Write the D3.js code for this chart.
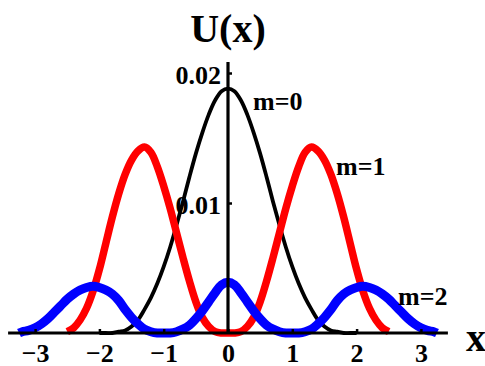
<!DOCTYPE html>
<html lang="en">
<head>
<meta charset="utf-8" />
<title>U(x)</title>
<script src="https://cdn.jsdelivr.net/npm/d3@7"></script>
<style>
  body { margin: 0; background: #fff; }
  svg { display: block; }
</style>
</head>
<body>
<div id="chart"></div>
<script>
// values (symmetric curves, listed left to right)
var xBlack = [-2.0,-1.9,-1.8,-1.7,-1.6,-1.5,-1.4,-1.3,-1.2,-1.1,-1.0,-0.9,-0.8,-0.7,-0.6,-0.5,-0.4,-0.3,-0.2,-0.1,
               0.0, 0.1, 0.2, 0.3, 0.4, 0.5, 0.6, 0.7, 0.8, 0.9, 1.0, 1.1, 1.2, 1.3, 1.4, 1.5, 1.6, 1.7, 1.8, 1.9, 2.0];
var m0 = [0,0,0,0.0001,0.0002,0.0005,0.0010,0.0018,0.0027,0.0038,0.0051,0.0066,0.0083,0.0101,0.0120,0.0138,0.0154,0.0168,0.0179,0.0186,
          0.0188,
          0.0186,0.0179,0.0168,0.0154,0.0138,0.0120,0.0101,0.0083,0.0066,0.0051,0.0038,0.0027,0.0018,0.0010,0.0005,0.0002,0.0001,0,0,0];

var xRed = [-2.5,-2.4,-2.3,-2.2,-2.1,-2.0,-1.9,-1.8,-1.7,-1.6,-1.5,-1.4,-1.3,-1.2,-1.1,-1.0,-0.9,-0.8,-0.7,-0.6,-0.5,-0.4,-0.3,-0.2,-0.1,
             0.0, 0.1, 0.2, 0.3, 0.4, 0.5, 0.6, 0.7, 0.8, 0.9, 1.0, 1.1, 1.2, 1.3, 1.4, 1.5, 1.6, 1.7, 1.8, 1.9, 2.0, 2.1, 2.2, 2.3, 2.4, 2.5];
var m1 = [0.0001,0.0004,0.0010,0.0019,0.0032,0.0049,0.0069,0.0089,0.0107,0.0122,0.0133,0.0140,0.0143,0.0139,0.0128,0.0113,0.0096,0.0077,0.0058,0.0040,0.0024,0.0012,0.0005,0.0001,0,
          0,
          0,0.0001,0.0005,0.0012,0.0024,0.0040,0.0058,0.0077,0.0096,0.0113,0.0128,0.0139,0.0143,0.0140,0.0133,0.0122,0.0107,0.0089,0.0069,0.0049,0.0032,0.0019,0.0010,0.0004,0.0001];

var xBlue = [-3.25,-3.2,-3.1,-3.0,-2.9,-2.8,-2.7,-2.6,-2.5,-2.4,-2.3,-2.2,-2.1,-2.0,-1.9,-1.8,-1.7,-1.6,-1.5,-1.4,-1.3,-1.2,-1.1,-1.0,-0.9,-0.8,-0.7,-0.6,-0.5,-0.4,-0.3,-0.2,-0.1,
              0.0, 0.1, 0.2, 0.3, 0.4, 0.5, 0.6, 0.7, 0.8, 0.9, 1.0, 1.1, 1.2, 1.3, 1.4, 1.5, 1.6, 1.7, 1.8, 1.9, 2.0, 2.1, 2.2, 2.3, 2.4, 2.5, 2.6, 2.7, 2.8, 2.9, 3.0, 3.1, 3.2, 3.25];
var m2 = [0,0.0001,0.0002,0.0004,0.0007,0.0011,0.0016,0.0021,0.0026,0.0030,0.0033,0.0035,0.0036,0.0035,0.0033,0.0030,0.0025,0.0018,0.0012,0.0007,0.0003,0.0001,0,0,0,0.0001,0.0003,0.0006,0.0011,0.0017,0.0024,0.0031,0.0037,
          0.0039,
          0.0037,0.0031,0.0024,0.0017,0.0011,0.0006,0.0003,0.0001,0,0,0,0.0001,0.0003,0.0007,0.0012,0.0018,0.0025,0.0030,0.0033,0.0035,0.0036,0.0035,0.0033,0.0030,0.0026,0.0021,0.0016,0.0011,0.0007,0.0004,0.0002,0.0001,0];

var xTicks = [-3,-2,-1,0,1,2,3];
var yTicks = [0.01, 0.02];
var curveLabels = ["m=0", "m=1", "m=2"];

var width = 485, height = 366;
var FONT = "'Liberation Serif', 'Times New Roman', serif";

var x = d3.scaleLinear().domain([-3, 3]).range([35.1, 420.9]);
var y = d3.scaleLinear().domain([0, 0.02]).range([333, 73]);

var svg = d3.select("#chart").append("svg")
    .attr("width", width)
    .attr("height", height);

var line = d3.line()
    .x(function(d) { return x(d[0]); })
    .y(function(d) { return y(d[1]); })
    .curve(d3.curveCatmullRom.alpha(0.5));

var series = [
  {xs: xBlack, ys: m0, color: "#000000", w: 3.8},
  {xs: xRed,   ys: m1, color: "#ff0000", w: 7.5},
  {xs: xBlue,  ys: m2, color: "#0000ff", w: 9}
];

series.forEach(function(s) {
  svg.append("path")
      .datum(d3.zip(s.xs, s.ys))
      .attr("fill", "none")
      .attr("stroke", s.color)
      .attr("stroke-width", s.w)
      .attr("stroke-linejoin", "round")
      .attr("d", line);
});

// axes
var xAxis = svg.append("g")
    .attr("transform", "translate(0," + y(0) + ")")
    .call(d3.axisBottom(x).tickValues(xTicks).tickSize(-4).tickPadding(11)
          .tickFormat(function(d) { return d < 0 ? "\u2212" + Math.abs(d) : d; }));
xAxis.select(".domain").remove();
xAxis.selectAll(".tick line").attr("stroke", "#000").attr("stroke-width", 2.5);
xAxis.selectAll("text")
    .style("font-family", FONT).style("font-weight", "bold").style("font-size", "26px")
    .attr("fill", "#000");

var yAxis = svg.append("g")
    .attr("transform", "translate(" + x(0) + ",0)")
    .call(d3.axisLeft(y).tickValues(yTicks).tickSize(-4).tickPadding(7)
          .tickFormat(d3.format(".2f")));
yAxis.select(".domain").remove();
yAxis.selectAll(".tick line").attr("stroke", "#000").attr("stroke-width", 2.5);
yAxis.selectAll("text")
    .style("font-family", FONT).style("font-weight", "bold").style("font-size", "26px")
    .attr("fill", "#000").attr("dy", "0.42em");

svg.append("line")
    .attr("x1", x(-3.42)).attr("x2", x(3.42))
    .attr("y1", y(0)).attr("y2", y(0))
    .attr("stroke", "#000").attr("stroke-width", 3.2);

svg.append("line")
    .attr("x1", x(0)).attr("x2", x(0))
    .attr("y1", y(0)).attr("y2", y(0.02085))
    .attr("stroke", "#000").attr("stroke-width", 3.2);

// titles
svg.append("text")
    .attr("x", x(0)).attr("y", 42)
    .attr("text-anchor", "middle")
    .style("font-family", FONT).style("font-weight", "bold").style("font-size", "40px")
    .text("U(x)");

svg.append("text")
    .attr("x", 466).attr("y", 351)
    .style("font-family", FONT).style("font-weight", "bold").style("font-size", "40px")
    .text("x");

// curve labels
var labelPos = [[253, 110], [336, 175], [398, 305]];
svg.selectAll(".clabel")
    .data(curveLabels)
    .enter().append("text")
    .attr("class", "clabel")
    .attr("x", function(d, i) { return labelPos[i][0]; })
    .attr("y", function(d, i) { return labelPos[i][1]; })
    .style("font-family", FONT).style("font-weight", "bold").style("font-size", "26px")
    .text(function(d) { return d; });
</script>
</body>
</html>
